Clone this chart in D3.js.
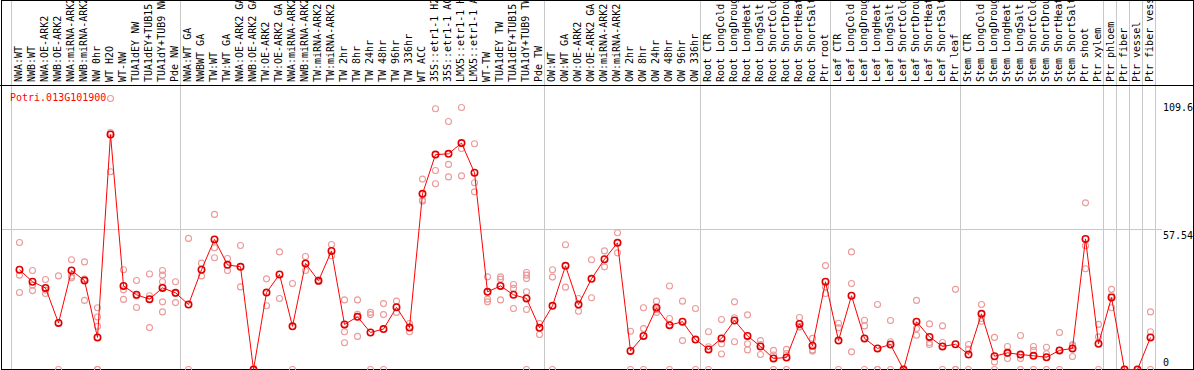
<!DOCTYPE html>
<html><head><meta charset="utf-8">
<script src="https://cdn.jsdelivr.net/npm/d3@7"></script>
<style>
html,body{margin:0;padding:0;background:#fff;}
svg{display:block;}
text{font-family:"DejaVu Sans Mono",monospace;font-size:10px;}
</style></head>
<body>
<script>
const title = "Potri.013G101900";
const categories = ["NWA:WT","NWB:WT","NWA:OE-ARK2","NWB:OE-ARK2","NWA:miRNA-ARK2","NWB:miRNA-ARK2","NW 0hr","WT H2O","WT-NW","TUA1dEY NW","TUA1dEY+TUB15","TUA1dY+TUB9 NW","Pde NW",
"NWA:WT GA","NWBWT GA","TW:WT","TW:WT GA","NWA:OE-ARK2 GA","NWB:OE-ARK2 GA","TW:OE-ARK2","TW:OE-ARK2 GA","NWA:miRNA-ARK2","NWB:miRNA-ARK2","TW:miRNA-ARK2","TW:miRNA-ARK2","TW 2hr","TW 8hr","TW 24hr","TW 48hr","TW 96hr","TW 336hr","WT ACC","35S::etr1-1 H2","35S::etr1-1 AC","LMX5::etr1-1 H","LMX5::etr1-1 A","WT-TW","TUA1dEY TW","TUA1dEY+TUB15","TUA1dY+TUB9 TW","Pde TW",
"OW:WT","OW:WT GA","OW:OE-ARK2","OW:OE-ARK2 GA","OW:miRNA-ARK2","OW:miRNA-ARK2","OW 2hr","OW 8hr","OW 24hr","OW 48hr","OW 96hr","OW 336hr",
"Root CTR","Root LongCold","Root LongDroug","Root LongHeat","Root LongSalt","Root ShortCold","Root ShortDrou","Root ShortHeat","Root ShortSalt","Ptr root",
"Leaf CTR","Leaf LongCold","Leaf LongDroug","Leaf LongHeat","Leaf LongSalt","Leaf ShortCold","Leaf ShortDrou","Leaf ShortHeat","Leaf ShortSalt","Ptr leaf",
"Stem CTR","Stem LongCold","Stem LongDroug","Stem LongHeat","Stem LongSalt","Stem ShortCold","Stem ShortDrou","Stem ShortHeat","Stem ShortSalt","Ptr shoot","Ptr xylem",
"Ptr phloem","Ptr fiber","Ptr vessel","Ptr fiber vess"];
const groupStarts = [0, 13, 41, 53, 63, 73, 84, 85, 86, 87, 88];
const means = [
40.7,35.8,33.3,19.0,40.4,36.3,13.1,95.9,34.1,30.5,
28.7,33.3,31.3,26.5,40.7,53.1,42.7,41.9,0,31.4,
38.8,17.6,43.3,36.2,48.4,18.4,21.5,15.1,16.5,25.4,
17.1,71.7,87.7,88.0,92.4,80.3,31.7,34.1,30.5,29.0,
17.0,26.0,42.3,26.5,37.0,45.0,51.7,7.6,13.7,25.2,
18.1,19.5,12.2,8.2,12.7,20.0,13.7,9.4,4.5,4.9,
18.6,9.7,35.8,11.8,30.1,12.7,8.6,10.2,0,19.5,
13.3,9.4,10.3,6.1,22.7,5.4,6.8,6.1,5.6,5.0,
7.8,8.6,53.3,10.5,29.4,0,0,13.1];
const replicates = [
[51.8,38.5,31.4],[40.4,34.4,32.2],[36.7,32.4,31.0],[38.2,0],[44.8,38.1,37.4],[43.9,36.9,28.2],[25.2,21.4,17.6,0,0],[110.6,96.7,80.7],[40.7,32.5,28.6],[36.3,30.0,25.3],
[39.0,30.1,17.1],[40.4,38.5,35.8,33.6,27.6,23.5],[35.8,31.0,27.3],[53.5,0],[43.4,38.2],[63.3,49.7,45.6],[45.3,40.4],[50.6,33.7],[0,0],[37.0,26.0],
[48.0,29.0],[35.1,0],[46.1,40.4],[36.5,35.9],[51.0,46.4],[28.4,15.4,10.9],[28.4,22.5,13.5],[23.3,22.4,0],[26.9,22.4,0],[27.9,23.3],
[18.8,15.4],[77.7,69.2,68.7],[106.4,81.2,75.8],[101.2,83.7,78.6],[106.9,90.2,79.0],[92.1,76.2,72.5],[37.8,28.7,27.6],[37.8,36.9,28.4],[34.7,33.1,24.9],[39.6,38.5,37.1,31.7,24.5,0],
[18.8,14.3],[40.7,37.7,0],[50.9,33.6],[29.0,23.8],[44.8,29.3],[48.4,41.9],[55.8,47.6],[15.6,0],[25.2,16.7,0],[27.9,24.4,23.3],
[34.1,20.8,0],[27.9,11.8],[24.9,0],[15.4,9.3,0],[20.4,10.5,6.3],[27.6,21.1,11.3],[22.3,10.5,8.0],[11.8,10.2,6.1],[7.8,5.9,0],[8.2,6.5,0],
[21.2,17.6,17.3],[12.7,8.0,7.5],[42.4,33.7,31.0],[18.9,17.0,0],[48.0,35.1,7.2],[20.1,17.8,0],[26.5,0,0],[20.0,11.3,0],[0,0],[28.2,16.7,14.0],
[18.6,11.0,10.2],[17.8,11.0,0],[32.7,0,0],[10.2,8.3,0],[26.5,20.8,19.7],[13.1,3.1,0],[9.4,6.5,4.5],[13.9,4.5,0],[9.4,7.8,0],[9.1,6.4,0],
[15.1,7.8,0],[10.2,9.7,5.3],[68.0,50.5,41.1],[18.4,13.3,0],[32.7,30.2,25.2],[0,0],[0,0],[23.5,15.4,0]];
const yTickValues = [109.6, 57.54, 0];
const yTickLabels = ["109.6", "57.54", "0"];
const yMax = 115.08;
const gridValues = [57.54];

const W = 1194, H = 370;
const svg = d3.select("body").append("svg").attr("width", W).attr("height", H);

const x = d3.scaleBand().domain(d3.range(categories.length)).range([11.5, 11.5 + 13 * categories.length]);
const px = i => x(i) + 8;
const y = d3.scaleLinear().domain([0, yMax]).range([369.5, 87.5]);

// group separator lines
svg.append("g").selectAll("line").data(groupStarts).join("line")
  .attr("x1", k => 11.5 + 13 * k).attr("x2", k => 11.5 + 13 * k)
  .attr("y1", 0).attr("y2", H)
  .attr("stroke", "#c8c8c8").attr("stroke-width", 1);

// horizontal gridline
svg.append("g").selectAll("line").data(gridValues).join("line")
  .attr("x1", 1).attr("x2", 1162)
  .attr("y1", d => Math.round(y(d)) + 0.5).attr("y2", d => Math.round(y(d)) + 0.5)
  .attr("stroke", "#c8c8c8").attr("stroke-width", 1);

// header separator and border
svg.append("line").attr("x1", 0).attr("x2", W).attr("y1", 85.5).attr("y2", 85.5).attr("stroke", "#000");
svg.append("rect").attr("x", 1.5).attr("y", 0.5).attr("width", W - 2).attr("height", H - 1)
  .attr("fill", "none").attr("stroke", "#000");

// category labels
svg.append("g").selectAll("text").data(categories).join("text")
  .attr("transform", (d, i) => `translate(${px(i) + 2},82) rotate(-90)`)
  .attr("fill", "#000")
  .text(d => d);

// title
svg.append("text").attr("x", 10).attr("y", 101).attr("fill", "#ff0000").text(title);

// y tick labels
svg.append("g").selectAll("text").data(yTickValues).join("text")
  .attr("x", 1163)
  .attr("y", (d, i) => d === 0 ? y(d) - 4 : y(d) + 10)
  .attr("fill", "#000")
  .text((d, i) => yTickLabels[i]);

// replicates
const reps = [];
replicates.forEach((arr, i) => arr.forEach(v => reps.push({i, v})));
svg.append("g").selectAll("circle").data(reps).join("circle")
  .attr("cx", d => px(d.i)).attr("cy", d => y(d.v)).attr("r", 3)
  .attr("fill", "none").attr("stroke", "#eb9a9a").attr("stroke-width", 1.1);

// mean line
svg.append("path").datum(means)
  .attr("d", d3.line().x((d, i) => px(i)).y(d => y(d)))
  .attr("fill", "none").attr("stroke", "#ff0000").attr("stroke-width", 1);

// mean circles
svg.append("g").selectAll("circle").data(means).join("circle")
  .attr("cx", (d, i) => px(i)).attr("cy", d => y(d)).attr("r", 3.2)
  .attr("fill", "none").attr("stroke", "#e00000").attr("stroke-width", 1.6);
</script>
</body></html>
